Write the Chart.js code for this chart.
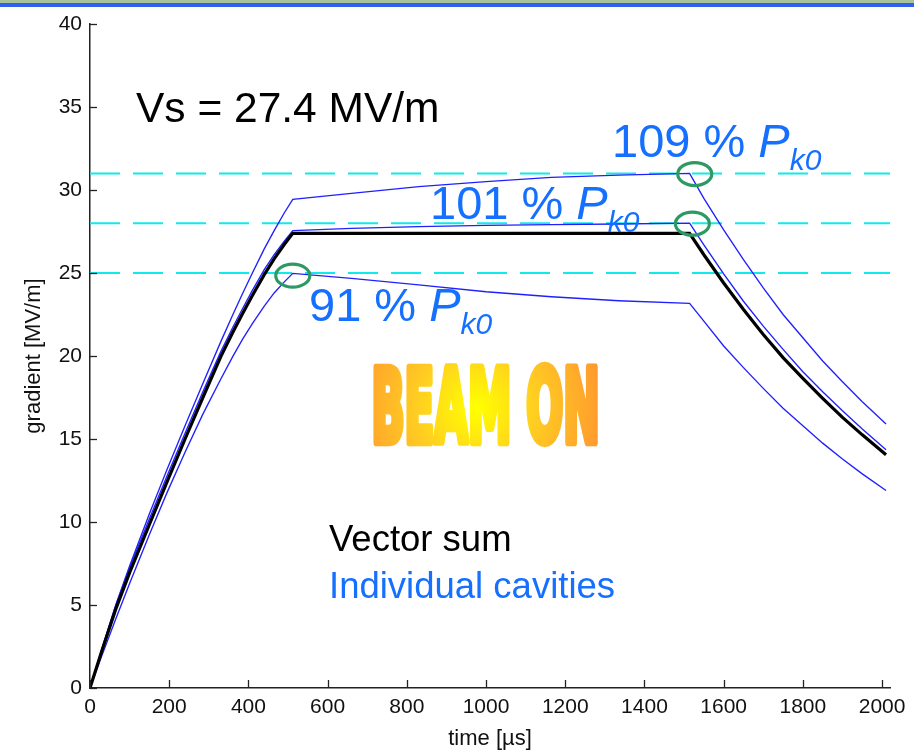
<!DOCTYPE html>
<html>
<head>
<meta charset="utf-8">
<script src="https://cdn.jsdelivr.net/npm/chart.js@4/dist/chart.umd.min.js"></script>
<style>
  html, body { margin: 0; padding: 0; background: #fff; }
  #wrap { position: relative; width: 920px; height: 752px; }
</style>
</head>
<body>
<div id="wrap"><canvas id="c" width="920" height="752"></canvas></div>
<script>
// ---- data ----
const timeUs = [0, 30, 65, 100, 150, 195, 240, 285, 330, 360, 385, 410, 440, 465, 490, 512,
                660, 830, 1000, 1165, 1335, 1514,
                1550, 1600, 1650, 1700, 1750, 1800, 1850, 1900, 1950, 2010];
const vectorSum = [0, 2.25, 4.75, 6.95, 9.85, 12.45, 15.0, 17.5, 19.95, 21.4, 22.55, 23.65, 24.9, 25.85, 26.7, 27.39,
                   27.39, 27.39, 27.39, 27.39, 27.39, 27.39,
                   26.1, 24.4, 22.8, 21.3, 19.9, 18.65, 17.45, 16.3, 15.25, 14.05];
const cavityHigh = [0, 2.35, 5.0, 7.35, 10.5, 13.2, 15.8, 18.35, 20.85, 22.45, 23.75, 25.0, 26.45, 27.55, 28.6, 29.44,
                    29.8, 30.2, 30.5, 30.76, 30.9, 31.0,
                    29.5, 27.6, 25.8, 24.1, 22.5, 21.1, 19.7, 18.45, 17.25, 15.9];
const cavityMid = [0, 2.3, 4.95, 7.25, 10.2, 12.8, 15.35, 17.85, 20.25, 21.7, 22.85, 23.95, 25.2, 26.1, 26.9, 27.55,
                   27.69, 27.79, 27.87, 27.91, 27.95, 28.0,
                   26.7, 24.95, 23.3, 21.8, 20.4, 19.05, 17.85, 16.7, 15.6, 14.35];
const cavityLow = [0, 1.95, 4.15, 6.3, 9.25, 11.8, 14.2, 16.5, 18.6, 19.95, 21.0, 21.95, 23.0, 23.8, 24.45, 24.98,
                   24.68, 24.28, 23.87, 23.57, 23.33, 23.17,
                   22.1, 20.6, 19.3, 18.05, 16.85, 15.8, 14.75, 13.8, 12.9, 11.9];
const limitLevels = [31, 28, 25];
const limitLabels = ['109 % ', '101 % ', '91 % '];
const markerTimes = [1527, 1521, 512];
const markerGrads = [30.96, 27.97, 24.84];
const xTickValues = [0, 200, 400, 600, 800, 1000, 1200, 1400, 1600, 1800, 2000];
const yTickValues = [0, 5, 10, 15, 20, 25, 30, 35, 40];
const xRange = [0, 2020];
const yRange = [0, 40];

const tickFont = '"Liberation Sans", Arial, Helvetica, sans-serif';
const txtFont = '"Liberation Sans", Arial, Helvetica, sans-serif';
const annBlue = '#1570ff';

function pts(ys) { return timeUs.map((t, i) => ({ x: t, y: ys[i] })); }

const datasets = [
  { data: pts(vectorSum), borderColor: '#000000', borderWidth: 3.2 },
  { data: pts(cavityHigh), borderColor: '#2020ff', borderWidth: 1.35 },
  { data: pts(cavityMid), borderColor: '#2020ff', borderWidth: 1.35 },
  { data: pts(cavityLow), borderColor: '#2020ff', borderWidth: 1.35 }
];
limitLevels.forEach(v => datasets.push({
  data: [{ x: xRange[0], y: v }, { x: xRange[1], y: v }],
  borderColor: '#10eaea', borderWidth: 2, borderDash: [30, 13]
}));
datasets.forEach(d => { d.pointRadius = 0; d.tension = 0; d.fill = false; });

const decorPlugin = {
  id: 'decor',
  beforeDraw(chart) {
    const ctx = chart.ctx;
    ctx.save();
    ctx.fillStyle = '#a8c49c';
    ctx.fillRect(0, 0, 914, 3);
    ctx.fillStyle = '#2f62ee';
    ctx.fillRect(0, 3, 914, 4);
    ctx.restore();
  },
  afterDraw(chart) {
    const ctx = chart.ctx;
    const xs = chart.scales.x, ys = chart.scales.y;
    ctx.save();
    // inward tick marks
    ctx.strokeStyle = '#222';
    ctx.lineWidth = 1.3;
    xs.ticks.forEach(t => {
      const px = Math.round(xs.getPixelForValue(t.value)) + 0.5;
      ctx.beginPath(); ctx.moveTo(px, ys.bottom); ctx.lineTo(px, ys.bottom - 8); ctx.stroke();
    });
    ys.ticks.forEach(t => {
      const py = Math.round(ys.getPixelForValue(t.value)) + 0.5;
      ctx.beginPath(); ctx.moveTo(xs.left, py); ctx.lineTo(xs.left + 7, py); ctx.stroke();
    });

    // green ellipses
    ctx.strokeStyle = '#2e9a63';
    ctx.lineWidth = 3.2;
    markerTimes.forEach((t, i) => {
      const cx = xs.getPixelForValue(t), cy = ys.getPixelForValue(markerGrads[i]);
      ctx.beginPath(); ctx.ellipse(cx, cy, 17, 11.5, 0, 0, Math.PI * 2); ctx.stroke();
    });

    // text annotations
    ctx.textBaseline = 'alphabetic';
    ctx.textAlign = 'left';
    ctx.fillStyle = '#000';
    ctx.font = '42.5px ' + txtFont;
    ctx.fillText('Vs = 27.4 MV/m', 136, 122);

    const pk = [[612, 157], [430, 219], [309, 321]];
    limitLabels.forEach((lab, i) => {
      let [x, y] = pk[i];
      ctx.fillStyle = annBlue;
      ctx.font = '47px ' + txtFont;
      ctx.fillText(lab, x, y);
      x += ctx.measureText(lab).width;
      ctx.font = 'italic 47px ' + txtFont;
      ctx.fillText('P', x, y);
      x += ctx.measureText('P').width;
      ctx.font = 'italic 30px ' + txtFont;
      ctx.fillText('k0', x, y + 13);
    });

    ctx.font = '36.5px ' + txtFont;
    ctx.fillStyle = '#000';
    ctx.fillText('Vector sum', 329, 551);
    ctx.fillStyle = annBlue;
    ctx.fillText('Individual cavities', 329, 598);

    // BEAM ON (condensed heavy, gradient)
    const box = { l: 373, t: 362, r: 598, b: 448 };
    const off = document.createElement('canvas');
    off.width = 920; off.height = 752;
    const o = off.getContext('2d');
    o.font = 'bold 120px "DejaVu Sans Condensed", "DejaVu Sans", sans-serif';
    o.textBaseline = 'alphabetic';
    o.lineJoin = 'round';
    const sw = 10;
    const m = o.measureText('BEAM ON');
    const w = m.actualBoundingBoxLeft + m.actualBoundingBoxRight + sw;
    const h = m.actualBoundingBoxAscent + m.actualBoundingBoxDescent + sw;
    const sx = (box.r - box.l) / w, sy = (box.b - box.t) / h;
    o.save();
    o.translate(box.l, box.t);
    o.scale(sx, sy);
    o.fillStyle = '#fff';
    o.strokeStyle = '#fff';
    o.lineWidth = sw;
    const tx = m.actualBoundingBoxLeft + sw / 2, ty = m.actualBoundingBoxAscent + sw / 2;
    o.fillText('BEAM ON', tx, ty);
    o.strokeText('BEAM ON', tx, ty);
    o.restore();
    o.globalCompositeOperation = 'source-in';
    const g = o.createRadialGradient(476, 408, 2, 476, 408, 135);
    g.addColorStop(0, '#ffff00');
    g.addColorStop(0.45, '#ffcc22');
    g.addColorStop(1, '#ff9430');
    o.fillStyle = g;
    o.fillRect(0, 0, 920, 752);
    ctx.drawImage(off, 0, 0);
    ctx.restore();
  }
};

new Chart(document.getElementById('c'), {
  type: 'line',
  data: { datasets },
  options: {
    responsive: false,
    devicePixelRatio: 1,
    animation: false,
    events: [],
    layout: { padding: { top: 24, right: 30, left: 0, bottom: 0 } },
    plugins: { legend: { display: false }, tooltip: { enabled: false } },
    scales: {
      x: {
        type: 'linear', min: xRange[0], max: xRange[1],
        afterFit(s) { s.height = 64; },
        afterBuildTicks(s) { s.ticks = xTickValues.map(v => ({ value: v })); },
        ticks: { autoSkip: false, padding: 7, color: '#111', maxRotation: 0,
                 callback: v => String(v),
                 font: { family: tickFont, size: 21 } },
        grid: { display: true, drawOnChartArea: false, drawTicks: false },
        border: { display: true, color: '#222', width: 1.5 },
        title: { display: true, text: 'time [µs]', color: '#111', padding: { top: 0, bottom: 0 },
                 font: { family: tickFont, size: 22 } }
      },
      y: {
        type: 'linear', min: yRange[0], max: yRange[1],
        afterFit(s) { s.width = 90; },
        afterBuildTicks(s) { s.ticks = yTickValues.map(v => ({ value: v })); },
        ticks: { autoSkip: false, padding: 8, color: '#111',
                 callback: v => String(v),
                 font: { family: tickFont, size: 21 } },
        grid: { display: true, drawOnChartArea: false, drawTicks: false },
        border: { display: true, color: '#222', width: 1.5 },
        title: { display: true, text: 'gradient [MV/m]', color: '#111', padding: { top: 21, bottom: 0 },
                 font: { family: tickFont, size: 22 } }
      }
    }
  },
  plugins: [decorPlugin]
});
</script>
</body>
</html>
